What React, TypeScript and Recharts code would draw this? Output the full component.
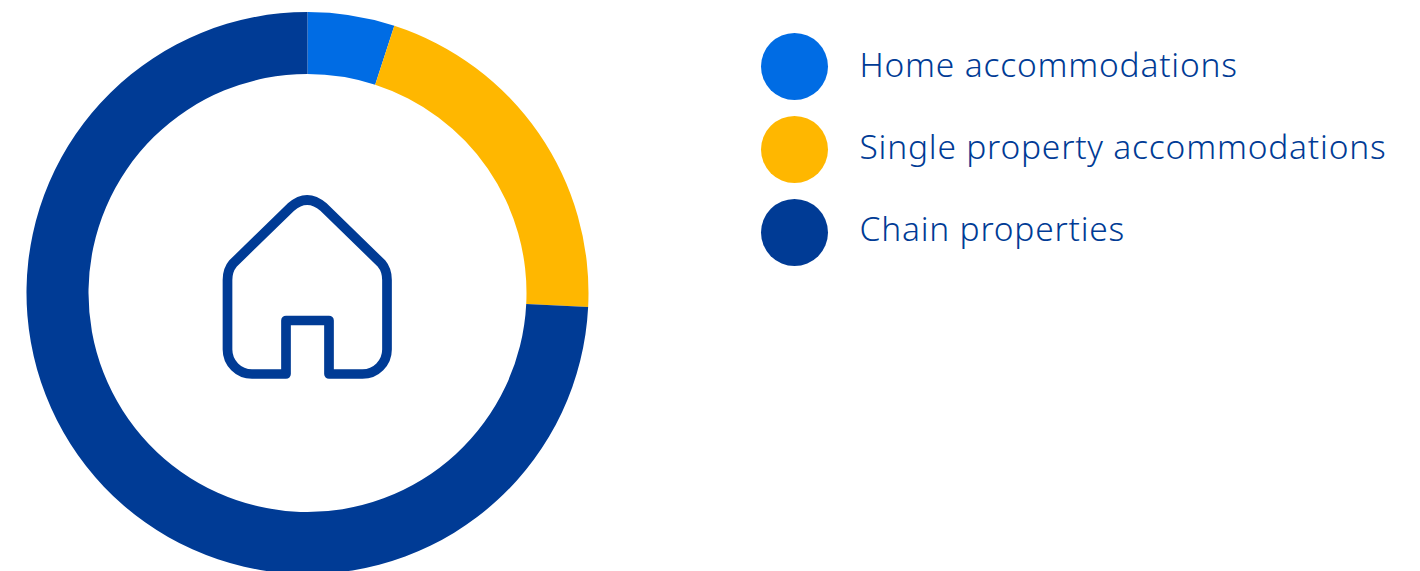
import { Cell, Legend, Pie, PieChart } from 'recharts'

const categories = ['Home accommodations', 'Single property accommodations', 'Chain properties']
const shares = [5, 20.8, 74.2]
const colors = ['#006ce4', '#ffb700', '#003b95']

const data = categories.map((name, i) => ({ name, value: shares[i] }))

const FONT = '"Noto Sans", sans-serif'

// legend entries: big round swatch + light label
function LegendList({ payload }: { payload?: { value: string; color: string }[] }) {
  return (
    <div>
      {payload?.map((p, i) => (
        <div key={p.value} style={{ display: 'flex', alignItems: 'flex-start', height: 83 }}>
          <div style={{ width: 67, height: 67, borderRadius: '50%', background: p.color }} />
          <div style={{ marginLeft: 32, marginTop: -i, fontFamily: FONT, fontWeight: 300, fontSize: 33.5, letterSpacing: 0.8, lineHeight: '62px', color: '#003b95', whiteSpace: 'nowrap' }}>
            {p.value}
          </div>
        </div>
      ))}
    </div>
  )
}

export default function App() {
  return (
    <div style={{ position: 'absolute', left: 0, top: 0, width: 1420, height: 571, overflow: 'hidden', background: '#fff' }}>
      <PieChart width={1420} height={571} margin={{ top: 0, right: 0, bottom: 0, left: 0 }}>
        <Pie
          data={data}
          dataKey="value"
          nameKey="name"
          cx={307.5}
          cy={293}
          innerRadius={219}
          outerRadius={281}
          startAngle={90}
          endAngle={-270}
          stroke="none"
          isAnimationActive={false}
        >
          {categories.map((c, i) => (
            <Cell key={c} fill={colors[i]} />
          ))}
        </Pie>
        {/* centre + middle keeps the legend from taking room away from the ring */}
        <Legend
          layout="vertical"
          align="center"
          verticalAlign="middle"
          itemSorter={null}
          wrapperStyle={{ left: 760.5, top: 33, width: 640 }}
          content={(props: any) => <LegendList payload={props.payload} />}
        />
        {/* house icon in the middle of the ring */}
        <path
          d="M286 374 H252 A24.5 24.5 0 0 1 227.5 349.5 V280 Q227.5 270 233 263.5 L291 207 Q307 193 323.5 207 L381.5 263.5 Q387 270 387 280 V349.5 A24.5 24.5 0 0 1 362.5 374 H329 V320.5 H286 Z"
          fill="none"
          stroke="#003b95"
          strokeWidth={9.7}
          strokeLinejoin="round"
        />
      </PieChart>
    </div>
  )
}
